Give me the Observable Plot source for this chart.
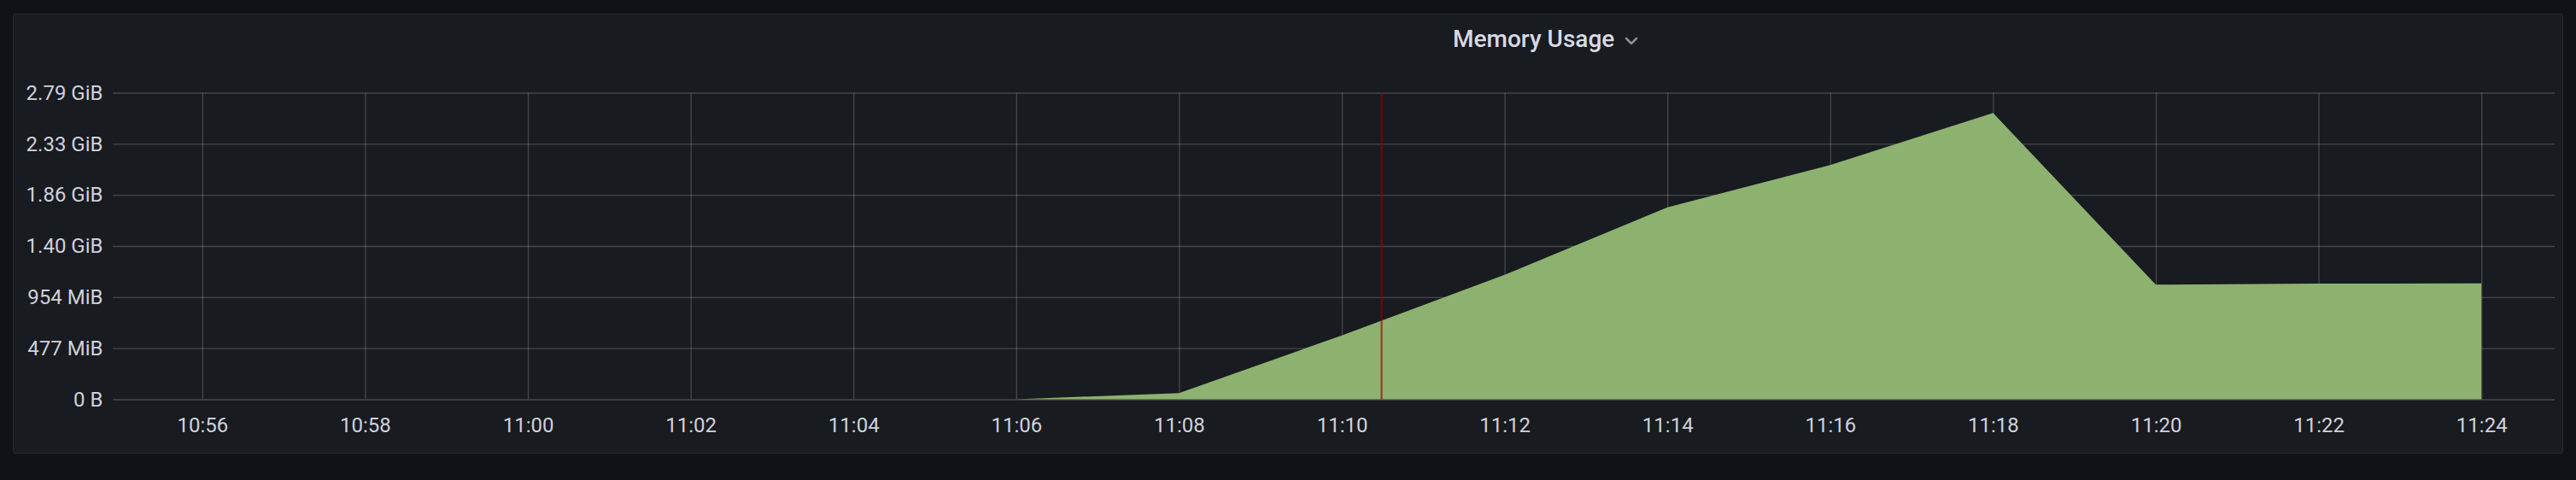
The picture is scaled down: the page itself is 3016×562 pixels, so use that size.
<!DOCTYPE html>
<html>
<head>
<meta charset="utf-8">
<script src="https://cdn.jsdelivr.net/npm/d3@7"></script>
<script src="https://cdn.jsdelivr.net/npm/@observablehq/plot@0.6"></script>
<style>
  html, body { margin: 0; padding: 0; background: #111217; width: 3016px; height: 562px; overflow: hidden; }
  #panel { position: absolute; left: 15px; top: 16px; width: 2984px; height: 513px; background: #181b1f; border: 1px solid rgba(204,204,220,0.09); border-radius: 3px; }
  #chart { position: absolute; left: 0; top: 0; }
  #title { position: absolute; left: 0; top: 0; }
</style>
</head>
<body>
<div id="panel"></div>
<div id="chart"></div>
<svg id="title" width="3016" height="80">
  <text x="1701" y="55" font-family="Roboto, sans-serif" font-size="28" font-weight="500" fill="#d8d9e3">Memory Usage</text>
  <polyline points="1904,45 1910,51 1916,45" fill="none" stroke="#8e8e96" stroke-width="2.5" stroke-linecap="round" stroke-linejoin="round"/>
</svg>
<script>
// ---- data ----
const sampleTimes = ["11:06", "11:08", "11:10", "11:12", "11:14", "11:16", "11:18", "11:20", "11:22", "11:24"];
const memoryBytes = [0, 6.1e7, 6.25e8, 1.218e9, 1.878e9, 2.291e9, 2.801e9, 1.121e9, 1.132e9, 1.135e9];
const xTickLabels = ["10:56", "10:58", "11:00", "11:02", "11:04", "11:06", "11:08", "11:10", "11:12", "11:14", "11:16", "11:18", "11:20", "11:22", "11:24"];
const xDomainLabels = ["10:54:54", "11:24:54"];
const yTickValues = [0, 5e8, 1e9, 1.5e9, 2e9, 2.5e9, 3e9];
const yTickLabels = ["0 B", "477 MiB", "954 MiB", "1.40 GiB", "1.86 GiB", "2.33 GiB", "2.79 GiB"];
const annotationTimes = ["11:10:29"];

function toDate(s) {
  const [h, m, sec] = s.split(":").map(Number);
  return new Date(Date.UTC(2024, 0, 1, h, m, sec || 0));
}

const data = sampleTimes.map((t, i) => ({ time: toDate(t), value: memoryBytes[i] }));
const xTicks = xTickLabels.map(toDate);
const xDomain = xDomainLabels.map(toDate);
const annotations = annotationTimes.map(toDate);

const chart = Plot.plot({
  width: 3016,
  height: 562,
  marginLeft: 132,
  marginRight: 25,
  marginTop: 108.5,
  marginBottom: 94.5,
  style: { background: "transparent", color: "#ccccdc", fontFamily: "Roboto, sans-serif", fontSize: "24px" },
  x: { type: "utc", domain: xDomain },
  y: { domain: [0, 3e9] },
  marks: [
    Plot.gridY(yTickValues, { stroke: "#ccccdc", strokeOpacity: 0.25, strokeWidth: 1.3 }),
    Plot.gridX(xTicks, { stroke: "#ccccdc", strokeOpacity: 0.25, strokeWidth: 1.3 }),
    Plot.areaY(data, { x: "time", y: "value", fill: "#8db270" }),
    Plot.ruleX(annotations, { stroke: "#960000", strokeOpacity: 0.65, strokeWidth: 2.2 }),
    Plot.axisX(xTicks, { tickFormat: d3.utcFormat("%H:%M"), tickSize: 0, tickPadding: 21, label: null, fill: "#d0d1dc" }),
    Plot.axisY(yTickValues, { tickFormat: d => yTickLabels[yTickValues.indexOf(d)], tickSize: 0, tickPadding: 12, label: null, fill: "#d0d1dc" })
  ]
});
document.getElementById("chart").appendChild(chart);
</script>
</body>
</html>
